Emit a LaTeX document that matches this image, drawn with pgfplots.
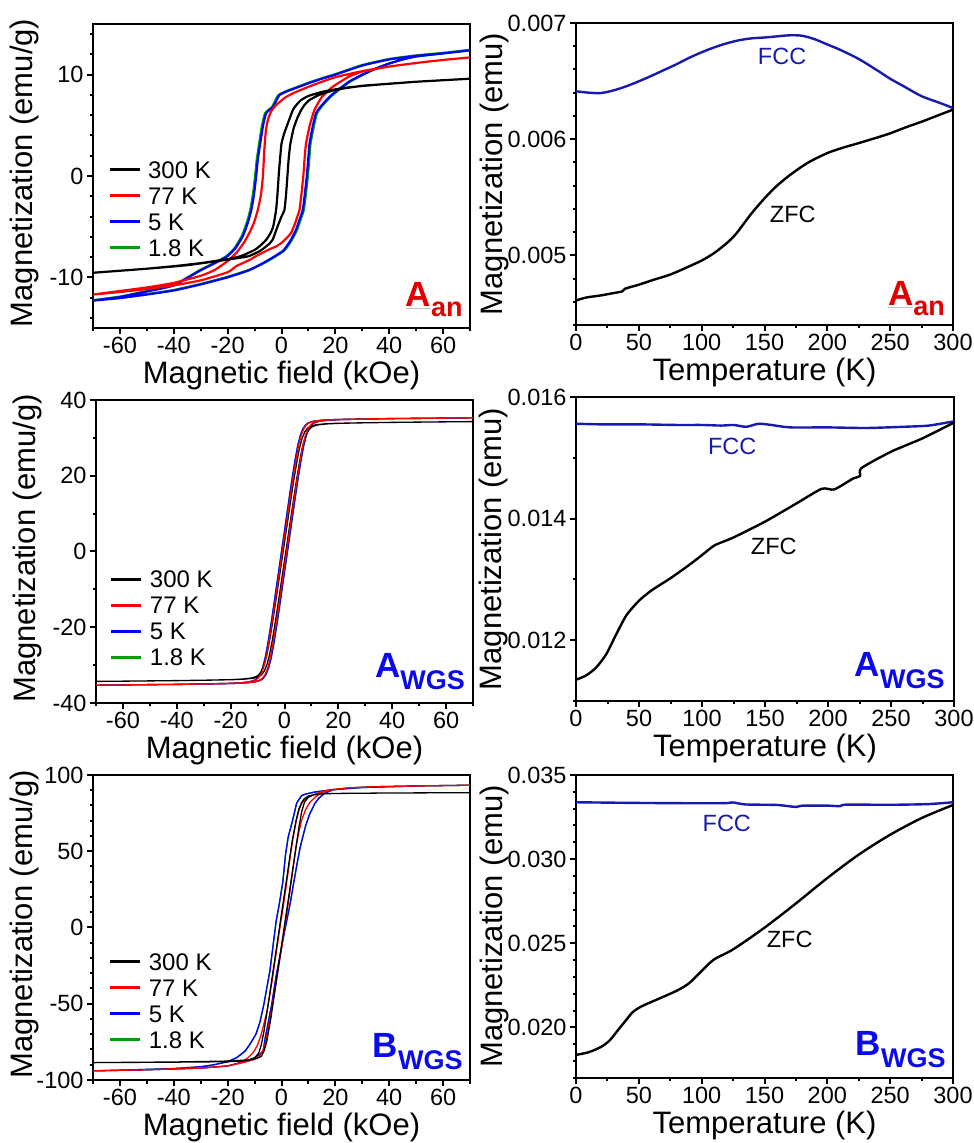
\documentclass[border=0pt]{standalone}
\usepackage{fontspec}
\setmainfont{Liberation Sans}
\usepackage{pgfplots}
\pgfplotsset{compat=1.18}
\usepackage{pgfplotstable}

\definecolor{cblue}{RGB}{0,0,255}
\definecolor{cred}{RGB}{255,0,0}
\definecolor{cgreen}{RGB}{0,160,0}
\definecolor{fccblue}{RGB}{25,25,175}
\definecolor{labred}{RGB}{225,0,0}
\definecolor{labblue}{RGB}{10,10,235}

\tikzset{
  samp/.style={anchor=base east, inner sep=0pt, font=\bfseries\fontsize{35}{35}\selectfont},
  curvelab/.style={font=\fontsize{23.5}{24}\selectfont},
}

\pgfplotsset{
  panel/.style={
    scale only axis, anchor=south west,
    axis line style={line width=2.6pt},
    tick style={line width=2pt, black},
    major tick length=6pt, minor tick length=3.5pt,
    tick align=outside, tick pos=left,
    ticklabel style={font=\fontsize{23.5}{24}\selectfont},
    label style={font=\fontsize{31}{32}\selectfont},
    /pgf/number format/assume math mode=true,
    scaled ticks=false,
    xlabel style={at={(axis description cs:0.5,0)}, anchor=base, yshift=-56pt},
    clip=true,
  },
  hyst/.style={
    panel, xmin=-70, xmax=70,
    xtick={-60,-40,-20,0,20,40,60},
    minor xtick={-70,-50,-30,-10,10,30,50,70},
    xlabel={Magnetic field (kOe)},
    ylabel={Magnetization (emu/g)},
    ylabel style={at={(axis description cs:-0.183,0.51)}, anchor=center},
    legend cell align=left,
    legend image code/.code={\draw[line width=3pt] (0pt,0pt) -- (30pt,0pt);},
    unbounded coords=jump,
  },
  hleg/.style={
    legend style={at={(axis description cs:#1)}, anchor=north west, draw=none, fill=none,
      inner sep=0pt, outer sep=0pt, font=\fontsize{24}{24}\selectfont,
      row sep=9pt, column sep=7pt,
      nodes={inner sep=0pt, text height=17pt, text depth=0pt}},
  },
  zfc/.style={
    panel, xmin=0, xmax=300,
    xtick={0,50,100,150,200,250,300},
    minor xtick={25,75,125,175,225,275},
    xlabel={Temperature (K)},
    ylabel={Magnetization (emu)},
    ylabel style={at={(axis description cs:-0.2175,0.5)}, anchor=center},
    yticklabel style={/pgf/number format/.cd, fixed, fixed zerofill, precision=3},
  },
}

\pgfplotstableread{
x y
70 35.3
53.9 35.19
38.9 35.09
28.9 34.98
18.9 34.84
13.9 34.66
10.9 34.42
8.9 33.99
7.9 33.46
6.9 32.48
5.9 30.71
4.9 27.89
3.9 24.0
2.9 19.59
1.9 14.83
0.9 9.88
-0.1 4.94
-1.1 0
-2.1 -4.94
-3.1 -9.88
-4.1 -14.83
-5.1 -19.59
-6.1 -24.0
-7.1 -27.89
-8.1 -30.71
-9.1 -32.48
-10.1 -33.46
-11.1 -33.99
-13.1 -34.42
-16.1 -34.66
-21.1 -34.84
-31.1 -34.98
-41.1 -35.09
-56.1 -35.19
-70 -35.3
-53.9 -35.19
-38.9 -35.09
-28.9 -34.98
-18.9 -34.84
-13.9 -34.66
-10.9 -34.42
-8.9 -33.99
-7.9 -33.46
-6.9 -32.48
-5.9 -30.71
-4.9 -27.89
-3.9 -24.0
-2.9 -19.59
-1.9 -14.83
-0.9 -9.88
0.1 -4.94
1.1 0
2.1 4.94
3.1 9.88
4.1 14.83
5.1 19.59
6.1 24.0
7.1 27.89
8.1 30.71
9.1 32.48
10.1 33.46
11.1 33.99
13.1 34.42
16.1 34.66
21.1 34.84
31.1 34.98
41.1 35.09
56.1 35.19
70 35.3
}\AwgsBlue

\pgfplotstableread{
x y
70 93.3
50 92.8
30 91.8
20 90.5
15 89.5
12 88.7
9 87.5
7.5 86.5
6.5 84
5.6 81.4
4.5 73
3.5 66
2.5 59.4
1.5 48
0.5 30
-0.8 15.6
-2 4
-3 -10
-4.3 -28.3
-5.5 -40
-6.5 -50
-8 -62
-9.5 -70
-11.7 -76.5
-13.5 -81
-16.6 -85.3
-20 -88
-25 -90
-30 -91.3
-40 -92.5
-55 -93.3
-70 -94
-50 -93.3
-30 -92.2
-20 -90.8
-14 -88
-10 -85.5
-8 -83
-6.8 -81
-6 -72
-5 -63
-3.6 -50
-2 -32
0.7 -6.4
2 5
3.2 15.6
4.5 29
6 44
7 53
7.9 59.4
9 67
10.5 74.5
12.4 81.4
14 85
16 88
19 90.2
25 91.5
35 92.3
50 92.8
70 93.3
}\BwgsBlue

\begin{document}
\begin{tikzpicture}
\path[use as bounding box] (0pt,0pt) rectangle (974pt,1143pt);

% ================= Panel 1: A_an hysteresis =================
\begin{axis}[hyst, hleg={0.04,0.548}, at={(93pt,815pt)}, width=377pt, height=304pt,
  ymin=-15, ymax=15, ytick={-10,0,10},
  minor ytick={-14,-12,-8,-6,-4,-2,2,4,6,8,12,14}]
\addlegendimage{black, line width=3pt}\addlegendentry{300 K}
\addlegendimage{cred, line width=3pt}\addlegendentry{77 K}
\addlegendimage{cblue, line width=3pt}\addlegendentry{5 K}
\addlegendimage{cgreen, line width=3pt}\addlegendentry{1.8 K}
\addplot[forget plot, cgreen, line width=2.2pt, line join=round, smooth, tension=0.3] table {
70 12.45
60 12.15
50 11.9
40 11.55
30 10.95
20 10.05
15 9.65
10 9.2
5 8.7
2 8.4
-1.1 8.0
-2.4 7.4
-3.6 6.8
-6.1 6.2
-7.3 4.9
-8.2 3.4
-9.2 1.6
-9.8 0
-10.6 -1.8
-11.6 -3.35
-12.9 -4.6
-14.7 -5.9
-17.4 -7.1
-20.4 -7.9
-24.4 -8.5
-30.4 -9.3
-40 -10.75
-50 -11.35
-60 -11.9
-70 -12.25
nan nan
-70 -12.25
-60 -12.0
-50 -11.65
-40 -11.25
-30 -10.65
-20 -9.95
-12 -9.25
-6.5 -8.6
-2.6 -8.0
0.9 -7.4
2.4 -6.9
3.9 -6.3
5.8 -5.3
7.1 -4.3
8.3 -3.35
9.1 -1.7
9.8 0
10.3 1.6
10.8 3.2
12.0 4.9
13.2 6.2
15.4 7.0
18.2 7.8
20.4 8.3
25.4 9.3
30.4 10.0
35 10.6
40 11.1
45 11.5
50 11.8
60 12.1
70 12.4
};
\addplot[forget plot, cblue, line width=2.2pt, line join=round, smooth, tension=0.3] table {
70 12.4
60 12.1
50 11.85
40 11.5
30 10.9
20 10.0
15 9.6
10 9.15
5 8.65
2 8.35
-0.7 8.0
-2 7.4
-3.2 6.8
-5.7 6.2
-6.9 4.9
-7.8 3.4
-8.8 1.6
-9.4 0
-10.2 -1.8
-11.2 -3.35
-12.5 -4.6
-14.3 -5.9
-17 -7.1
-20 -7.9
-24 -8.5
-30 -9.3
-40 -10.8
-50 -11.4
-60 -11.95
-70 -12.3
nan nan
-70 -12.3
-60 -12.05
-50 -11.7
-40 -11.3
-30 -10.7
-20 -10.0
-12 -9.3
-6.9 -8.6
-3 -8.0
0.5 -7.4
2 -6.9
3.5 -6.3
5.4 -5.3
6.7 -4.3
7.9 -3.35
8.7 -1.7
9.4 0
9.9 1.6
10.4 3.2
11.6 4.9
12.8 6.2
15 7.0
17.8 7.8
20 8.3
25 9.3
30 10.0
35 10.6
40 11.1
45 11.5
50 11.8
60 12.1
70 12.4
};
\addplot[forget plot, cred, line width=2.2pt, line join=round, smooth, tension=0.3] table {
70 11.7
60 11.45
50 11.15
40 10.8
30 10.35
20 9.75
14 9.2
10 8.8
5 8.25
1.7 7.8
0 7.45
-2 7.0
-3.8 6.4
-5 5.6
-5.8 4.5
-6.4 2.5
-6.9 0
-7.6 -1.8
-8.8 -3.35
-10.2 -4.6
-11.9 -5.6
-14 -6.6
-16.8 -7.6
-20 -8.4
-25 -9.3
-30 -9.85
-40 -10.55
-50 -11.0
-60 -11.35
-70 -11.7
nan nan
-70 -11.7
-60 -11.45
-50 -11.15
-40 -10.8
-30 -10.3
-20 -9.5
-16.8 -8.9
-12 -8.3
-9.4 -7.9
-5 -7.3
-2 -6.95
0 -6.6
2 -6.1
3.6 -5.6
5 -4.7
6 -3.9
6.7 -3.35
7.4 -1.8
8.1 0
8.6 1.8
9.1 3.2
10.5 5.0
12.2 6.5
15 7.8
19 8.8
25 9.8
30 10.3
40 10.8
50 11.15
60 11.45
70 11.7
};
\addplot[forget plot, black, line width=2.2pt, line join=round, smooth, tension=0.3] table {
70 9.6
50 9.3
35 9.0
25 8.75
20 8.55
15 8.3
10 7.9
7.3 7.5
5.5 7.0
4.2 6.5
2.5 5.3
1 4.2
0 3.2
-0.5 1.8
-1 0.2
-1.5 -1.8
-2 -3.35
-3 -4.9
-4 -5.6
-5.7 -6.3
-8 -6.9
-10 -7.3
-15 -7.9
-20 -8.2
-30 -8.6
-40 -8.9
-50 -9.15
-60 -9.35
-70 -9.55
nan nan
-70 -9.55
-50 -9.15
-35 -8.8
-20 -8.25
-15 -8.05
-12 -7.9
-8 -7.4
-5 -6.8
-3.3 -6.3
-1.5 -5.0
0 -4.0
1.1 -3.35
1.7 -1.8
2.2 0
2.7 1.8
3.3 3.2
4.5 4.7
6 5.8
7.3 6.5
8.5 7.0
10.4 7.5
14 8.0
20 8.5
30 8.9
40 9.1
50 9.3
60 9.45
70 9.6
};
\node[samp, text=labred] (lab1) at (rel axis cs:0.981,0.072) {A\raisebox{-10pt}{\fontsize{27}{27}\selectfont an}};
\draw[black!25, line width=0.9pt] ([yshift=-2.5pt]lab1.base west) -- ++(25pt,0pt);
\end{axis}

% ================= Panel 2: A_an ZFC/FCC =================
\begin{axis}[zfc, at={(576pt,818pt)}, width=377pt, height=302pt,
  ymin=0.0044, ymax=0.007, ytick={0.005,0.006,0.007},
  minor ytick={0.0044,0.0046,0.0048,0.0052,0.0054,0.0056,0.0058,0.0062,0.0064,0.0066,0.0068}]
\addplot[fccblue, line width=2.4pt, line join=round, smooth, tension=0.5] table {
0 0.006412
10 0.006400
20 0.006397
30 0.006420
40 0.006455
50 0.006498
60 0.006545
70 0.006595
80 0.006645
90 0.006700
100 0.006748
110 0.006790
120 0.006825
130 0.006852
140 0.006868
150 0.006875
160 0.006885
170 0.006894
180 0.006890
190 0.006860
200 0.006815
210 0.006770
225 0.006690
240 0.006590
250 0.006520
260 0.006460
275 0.006370
290 0.006310
300 0.006268
};
\addplot[black, line width=2.4pt, line join=round, smooth, tension=0.5] table {
0 0.004610
5 0.004628
10 0.004640
20 0.004655
30 0.004675
37 0.004690
39 0.004712
50 0.004747
62 0.004790
75 0.004834
87 0.004890
100 0.004955
110 0.005020
120 0.005105
127 0.005180
133 0.005265
140 0.005365
150 0.005490
160 0.005600
172 0.005705
185 0.005800
200 0.005880
212 0.005925
225 0.005966
240 0.006015
250 0.006050
262 0.006100
275 0.006150
287 0.006200
300 0.006254
};
\node[curvelab, text=fccblue] at (axis cs:164,0.006713) {FCC};
\node[curvelab] at (axis cs:172.5,0.00535) {ZFC};
\node[samp, text=labred] (lab2) at (rel axis cs:0.979,0.066) {A\raisebox{-10pt}{\fontsize{27}{27}\selectfont an}};
\draw[black!25, line width=0.9pt] ([yshift=-2.5pt]lab2.base west) -- ++(25pt,0pt);
\end{axis}

% ================= Panel 3: A_WGS hysteresis =================
\begin{axis}[hyst, hleg={0.037,0.437}, at={(96pt,440pt)}, width=377pt, height=303pt,
  ymin=-40, ymax=40, ytick={-40,-20,0,20,40},
  minor ytick={-30,-10,10,30}]
\addlegendimage{black, line width=3pt}\addlegendentry{300 K}
\addlegendimage{cred, line width=3pt}\addlegendentry{77 K}
\addlegendimage{cblue, line width=3pt}\addlegendentry{5 K}
\addlegendimage{cgreen, line width=3pt}\addlegendentry{1.8 K}
\addplot[forget plot, cgreen, line width=1.3pt, line join=round] table {\AwgsBlue};
\addplot[forget plot, cblue, line width=1.3pt, line join=round] table {\AwgsBlue};
\addplot[forget plot, black, line width=1.3pt, line join=round] table {
70 34.3
54.5 34.2
39.5 34.09
29.5 33.99
19.5 33.85
14.5 33.68
11.5 33.44
9.5 33.03
8.5 32.52
7.5 31.56
6.5 29.84
5.5 27.1
4.5 23.32
3.5 19.04
2.5 14.41
1.5 9.6
0.5 4.8
-0.5 0
-1.5 -4.8
-2.5 -9.6
-3.5 -14.41
-4.5 -19.04
-5.5 -23.32
-6.5 -27.1
-7.5 -29.84
-8.5 -31.56
-9.5 -32.52
-10.5 -33.03
-12.5 -33.44
-15.5 -33.68
-20.5 -33.85
-30.5 -33.99
-40.5 -34.09
-55.5 -34.2
-70 -34.3
-54.5 -34.2
-39.5 -34.09
-29.5 -33.99
-19.5 -33.85
-14.5 -33.68
-11.5 -33.44
-9.5 -33.03
-8.5 -32.52
-7.5 -31.56
-6.5 -29.84
-5.5 -27.1
-4.5 -23.32
-3.5 -19.04
-2.5 -14.41
-1.5 -9.6
-0.5 -4.8
0.5 0
1.5 4.8
2.5 9.6
3.5 14.41
4.5 19.04
5.5 23.32
6.5 27.1
7.5 29.84
8.5 31.56
9.5 32.52
10.5 33.03
12.5 33.44
15.5 33.68
20.5 33.85
30.5 33.99
40.5 34.09
55.5 34.2
70 34.3
};
\addplot[forget plot, cred, line width=1.3pt, line join=round] table {
70 35.3
54.2 35.19
39.2 35.09
29.2 34.98
19.2 34.84
14.2 34.66
11.2 34.42
9.2 33.99
8.2 33.46
7.2 32.48
6.2 30.71
5.2 27.89
4.2 24.0
3.2 19.59
2.2 14.83
1.2 9.88
0.2 4.94
-0.8 0
-1.8 -4.94
-2.8 -9.88
-3.8 -14.83
-4.8 -19.59
-5.8 -24.0
-6.8 -27.89
-7.8 -30.71
-8.8 -32.48
-9.8 -33.46
-10.8 -33.99
-12.8 -34.42
-15.8 -34.66
-20.8 -34.84
-30.8 -34.98
-40.8 -35.09
-55.8 -35.19
-70 -35.3
-54.2 -35.19
-39.2 -35.09
-29.2 -34.98
-19.2 -34.84
-14.2 -34.66
-11.2 -34.42
-9.2 -33.99
-8.2 -33.46
-7.2 -32.48
-6.2 -30.71
-5.2 -27.89
-4.2 -24.0
-3.2 -19.59
-2.2 -14.83
-1.2 -9.88
-0.2 -4.94
0.8 0
1.8 4.94
2.8 9.88
3.8 14.83
4.8 19.59
5.8 24.0
6.8 27.89
7.8 30.71
8.8 32.48
9.8 33.46
10.8 33.99
12.8 34.42
15.8 34.66
20.8 34.84
30.8 34.98
40.8 35.09
55.8 35.19
70 35.3
};
\node[samp, text=labblue] at (rel axis cs:0.979,0.083) {A\raisebox{-12pt}{\fontsize{27}{27}\selectfont WGS}};
\end{axis}

% ================= Panel 4: A_WGS ZFC/FCC =================
\begin{axis}[zfc, at={(576pt,442pt)}, width=378pt, height=304pt,
  ymin=0.011, ymax=0.016, ytick={0.012,0.014,0.016},
  minor ytick={0.011,0.013,0.015}]
\addplot[fccblue, line width=2.4pt, line join=round, smooth, tension=0.4] table {
0 0.01556
20 0.01555
50 0.01555
80 0.01554
100 0.01554
115 0.01553
125 0.01554
135 0.01551
145 0.01556
155 0.01554
170 0.01550
200 0.01550
230 0.01549
260 0.01551
280 0.01553
300 0.01560
};
\addplot[black, line width=2.4pt, line join=round, smooth, tension=0.4] table {
0 0.01135
8 0.01142
16 0.01155
24 0.01177
32 0.01210
40 0.01241
50 0.01265
60 0.01282
75 0.01302
90 0.01324
100 0.01340
110 0.01356
125 0.01369
150 0.01395
175 0.01425
195 0.01449
205 0.01448
220 0.01466
225.5 0.01470
226.5 0.01483
250 0.01510
275 0.01532
300 0.01558
};
\node[curvelab, text=fccblue] at (axis cs:124,0.01519) {FCC};
\node[curvelab] at (axis cs:157,0.01354) {ZFC};
\node[samp, text=labblue] at (rel axis cs:0.976,0.082) {A\raisebox{-12pt}{\fontsize{27}{27}\selectfont WGS}};
\end{axis}

% ================= Panel 5: B_WGS hysteresis =================
\begin{axis}[hyst, hleg={0.042,0.415}, at={(93pt,63pt)}, width=377pt, height=305pt,
  ymin=-100, ymax=100, ytick={-100,-50,0,50,100},
  minor ytick={-90,-80,-70,-60,-40,-30,-20,-10,10,20,30,40,60,70,80,90}]
\addlegendimage{black, line width=3pt}\addlegendentry{300 K}
\addlegendimage{cred, line width=3pt}\addlegendentry{77 K}
\addlegendimage{cblue, line width=3pt}\addlegendentry{5 K}
\addlegendimage{cgreen, line width=3pt}\addlegendentry{1.8 K}
\addplot[forget plot, cgreen, line width=1.3pt, line join=round] table {\BwgsBlue};
\addplot[forget plot, cblue, line width=1.3pt, line join=round] table {\BwgsBlue};
\addplot[forget plot, cred, line width=1.3pt, line join=round] table {
70 93.3
50 92.8
35 92.3
25 91.6
19 90.5
15 89.2
12.5 87.5
10.5 86
9 84.5
7.5 81.5
6.5 77
5.5 70
4.5 61
3.5 50
2.5 37
1.5 24
0.5 12
-0.5 1
-1.5 -11
-2.5 -23
-3.5 -35
-4.5 -46
-5.5 -56
-6.5 -63
-7.5 -70
-9 -77.5
-10.5 -82
-12.5 -85.5
-15 -88.5
-19 -90.5
-25 -91.6
-35 -92.3
-50 -93.3
-70 -94
-50 -93.3
-30 -92.2
-20 -90.8
-14 -88.5
-10 -86.5
-8 -84
-7 -81
-6 -76
-5 -67
-3.6 -53
-2 -36
0 -14
1 -2
2 10
3 22
4 35
5 48
5.6 55
6.5 63
7.5 70.5
9 77.5
10.5 82
12.5 85.5
15 88.5
19 90.5
25 91.6
35 92.3
50 92.8
70 93.3
};
\addplot[forget plot, black, line width=1.3pt, line join=round] table {
70 88.4
40 88.2
20 87.9
15 87.6
12 87
10 86.2
8.5 84.5
7.5 82
6.5 78
5.5 71
4 57
2 33
0 9
-1 -3
-3 -27
-5 -51
-6.5 -68
-7.5 -77
-8.5 -82.5
-10 -85.5
-12 -87
-15 -87.6
-20 -88
-40 -88.3
-70 -88.6
-40 -88.2
-20 -87.6
-12 -86.8
-9 -85.8
-7.5 -84.5
-6.5 -81
-5.5 -75
-4 -60
-2 -36
0 -12
1 0
3 24
5 48
6.5 66
7.5 76
8.5 82
10 85.5
12 87
15 87.6
20 87.9
40 88.2
70 88.4
};
\node[samp, text=labblue] at (rel axis cs:0.981,0.075) {B\raisebox{-12pt}{\fontsize{27}{27}\selectfont WGS}};
\end{axis}

% ================= Panel 6: B_WGS ZFC/FCC =================
\begin{axis}[zfc, at={(576pt,65pt)}, width=377pt, height=303pt,
  ymin=0.017, ymax=0.035, ytick={0.020,0.025,0.030,0.035},
  minor ytick={0.017,0.018,0.019,0.021,0.022,0.023,0.024,0.026,0.027,0.028,0.029,0.031,0.032,0.033,0.034}]
\addplot[fccblue, line width=2.4pt, line join=round, smooth, tension=0.4] table {
0 0.03338
50 0.03334
100 0.03332
120 0.03333
125 0.03337
135 0.03325
160 0.03322
175 0.03310
180 0.03318
200 0.03318
210 0.03315
215 0.03324
250 0.03323
280 0.03327
300 0.03338
};
\addplot[black, line width=2.4pt, line join=round, smooth, tension=0.5] table {
0 0.018373
10 0.01853
20 0.01885
27 0.01925
34 0.01990
40 0.02045
45 0.02090
52 0.02125
65 0.02168
80 0.02218
90 0.02263
100 0.02336
110 0.02405
125 0.02464
150 0.02593
175 0.02737
200 0.02888
225 0.03027
250 0.03145
275 0.03244
300 0.03322
};
\node[curvelab, text=fccblue] at (axis cs:120,0.03214) {FCC};
\node[curvelab] at (axis cs:170,0.02524) {ZFC};
\node[samp, text=labblue] at (rel axis cs:0.981,0.073) {B\raisebox{-12pt}{\fontsize{27}{27}\selectfont WGS}};
\end{axis}
\end{tikzpicture}
\end{document}
